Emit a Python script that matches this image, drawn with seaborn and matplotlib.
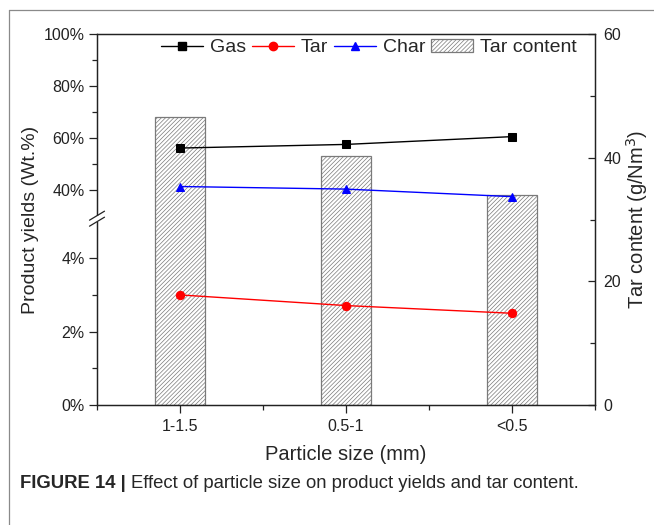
import numpy as np
import matplotlib
matplotlib.use("Agg")
import matplotlib.pyplot as plt
from matplotlib.lines import Line2D
from matplotlib.patches import Patch
from matplotlib.ticker import FixedLocator, FixedFormatter
import seaborn as sns

# Data
particle_sizes = ["1-1.5", "0.5-1", "<0.5"]
gas_yield = [56.1, 57.5, 60.5]       # wt.%
char_yield = [41.3, 40.3, 37.4]      # wt.%
tar_yield = [3.0, 2.71, 2.50]        # wt.%
tar_content = [46.6, 40.3, 34.0]     # g/Nm3

left_major = [0, 2, 4, 40, 60, 80, 100]
left_major_labels = ["0%", "2%", "4%", "40%", "60%", "80%", "100%"]
left_minor = [1, 3, 50, 70, 90]
right_major = [0, 20, 40, 60]
right_minor = [10, 30, 50]

sns.set_theme(style="ticks")
plt.rcParams["font.family"] = ["Liberation Sans", "DejaVu Sans"]
plt.rcParams["hatch.linewidth"] = 0.5
plt.rcParams["axes.edgecolor"] = "#222222"
plt.rcParams["xtick.color"] = "#222222"
plt.rcParams["ytick.color"] = "#222222"

BAR_EDGE = "#7a7a7a"
HATCH = "////////"

fig = plt.figure(figsize=(6.54, 5.25), dpi=100)
ax = fig.add_axes([97 / 654, 1 - 405 / 525, (595 - 97) / 654, (405 - 34) / 525])
ax2 = ax.twinx()

# Broken left axis: 0-5 % on the lower half, 30-100 % on the upper half
brk_x = [0, 5, 30, 100]
brk_f = [0, 0.4945, 0.5098, 1.0]
fwd = lambda v: np.interp(v, brk_x, brk_f)
inv = lambda f: np.interp(f, brk_f, brk_x)
ax.set_yscale("function", functions=(fwd, inv))
ax.set_ylim(0, 100)

positions = np.arange(len(particle_sizes))

# Tar content bars on the right axis
sns.barplot(x=positions, y=tar_content, native_scale=True, width=0.3,
            color="white", edgecolor=BAR_EDGE, linewidth=0.9,
            hatch=HATCH, ax=ax2, saturation=1)
ax2.set_ylim(0, 60)

# Product yields on the left axis
series = [
    ("Gas", gas_yield, "black", "s"),
    ("Tar", tar_yield, "red", "o"),
    ("Char", char_yield, "blue", "^"),
]
handles = []
for name, vals, col, mk in series:
    sns.lineplot(x=positions, y=vals, color=col, marker=mk, markersize=6,
                 markeredgecolor=col, linewidth=1.0, ax=ax, legend=False)
    handles.append(Line2D([], [], color=col, marker=mk, markersize=6,
                          linewidth=1.0, label=name))
handles.append(Patch(facecolor="white", edgecolor=BAR_EDGE, hatch=HATCH,
                     linewidth=0.9, label="Tar content"))

ax.set_zorder(ax2.get_zorder() + 1)
ax.patch.set_visible(False)

ax.set_xlim(-0.5, 2.5)
ax.xaxis.set_major_locator(FixedLocator(positions))
ax.xaxis.set_major_formatter(FixedFormatter(particle_sizes))
ax.xaxis.set_minor_locator(FixedLocator([-0.5, 0.5, 1.5, 2.5]))
ax.yaxis.set_major_locator(FixedLocator(left_major))
ax.yaxis.set_major_formatter(FixedFormatter(left_major_labels))
ax.yaxis.set_minor_locator(FixedLocator(left_minor))
ax.tick_params(axis="both", which="major", direction="out", length=6,
               width=0.9, labelsize=11.5)
ax.tick_params(axis="both", which="minor", direction="out", length=3.5,
               width=0.9)
ax.tick_params(axis="x", which="major", pad=4)
ax.tick_params(axis="y", which="major", pad=3)

ax2.yaxis.set_major_locator(FixedLocator(right_major))
ax2.yaxis.set_minor_locator(FixedLocator(right_minor))
ax2.tick_params(axis="y", which="major", direction="in", length=5,
                width=0.9, labelsize=11.5, pad=6)
ax2.tick_params(axis="y", which="minor", direction="in", length=3.5,
                width=0.9)

for a in (ax, ax2):
    for s in a.spines.values():
        s.set_linewidth(0.9)
        s.set_visible(True)

ax.set_xlabel("Particle size (mm)", fontsize=14.5, labelpad=8)
ax.set_ylabel("Product yields (Wt.%)", fontsize=14, labelpad=3.5)
ax2.set_ylabel("Tar content (g/Nm$^3$)", fontsize=14.5, labelpad=2)

# Axis break marks on the left spine
bf = 0.5022
w, h = 498.0, 371.0
ax.add_patch(plt.Rectangle((-3 / w, bf - 3 / h), 6 / w, 6 / h,
                           transform=ax.transAxes, facecolor="white",
                           edgecolor="none", clip_on=False, zorder=5))
for off in (-3.0, 3.0):
    ax.add_line(Line2D([-7.5 / w, 7.5 / w],
                       [bf + (off - 4.5) / h, bf + (off + 4.5) / h],
                       transform=ax.transAxes, color="#222222", lw=0.9,
                       clip_on=False, zorder=6))

ax.legend(handles=handles, loc="upper right", bbox_to_anchor=(0.973, 1.0),
          ncol=4, frameon=False, fontsize=14, handlelength=2.15,
          handleheight=0.7, handletextpad=0.36, columnspacing=0.3,
          borderaxespad=0.0, borderpad=0.25)

# Caption frame lines
fig.add_artist(Line2D([9 / 654, 9 / 654], [0, 1 - 10 / 525],
                      transform=fig.transFigure, color="#8a8a8a", lw=0.9))
fig.add_artist(Line2D([9 / 654, 1], [1 - 10 / 525, 1 - 10 / 525],
                      transform=fig.transFigure, color="#8a8a8a", lw=0.9))

# Caption
cap_y = 1 - 483 / 525
t1 = fig.text(20 / 654, cap_y, "FIGURE 14 | ", fontsize=13.3,
              fontweight="bold", va="center", ha="left")
fig.canvas.draw()
bb = t1.get_window_extent()
fig.text(bb.x1 / fig.bbox.width, cap_y,
         "Effect of particle size on product yields and tar content.",
         fontsize=13.3, va="center", ha="left")

fig.savefig("out.png", dpi=100)
